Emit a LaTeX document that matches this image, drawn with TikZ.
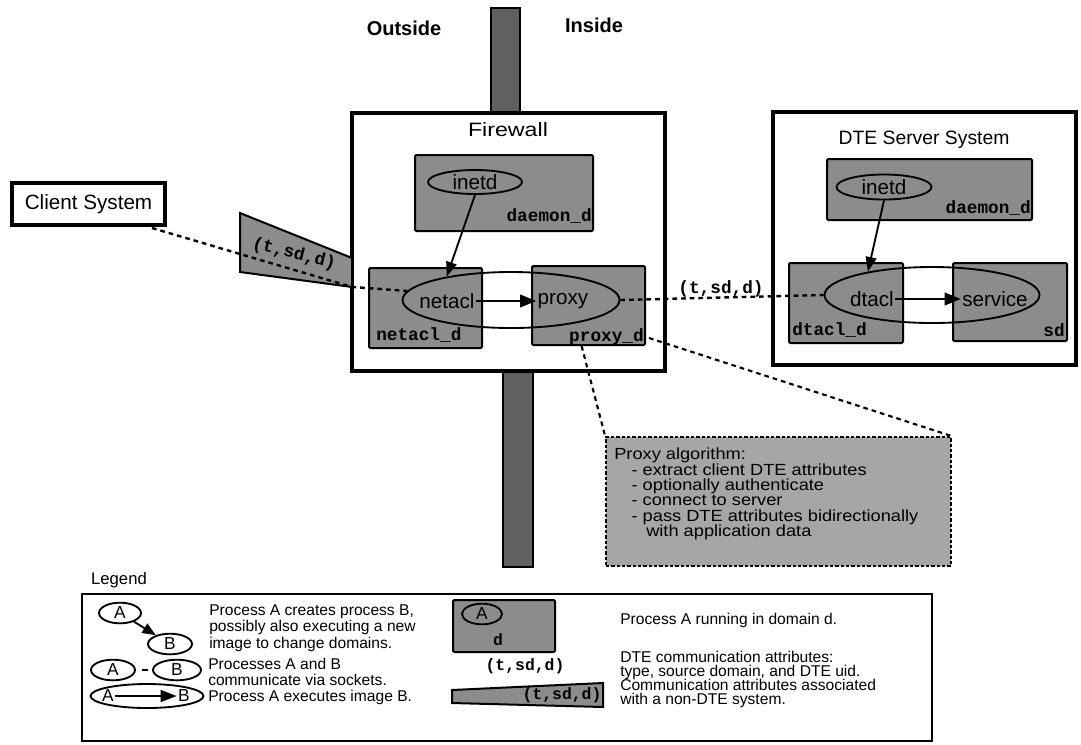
\documentclass[tikz,border=0pt]{standalone}
\usepackage{fontspec}
\setmainfont{Liberation Sans}
\setmonofont{Liberation Mono}
\newfontfamily\widesans[FakeStretch=1.13]{Liberation Sans}
\usetikzlibrary{arrows.meta,calc,shapes.geometric}
\begin{document}
\begin{tikzpicture}[x=0.75pt,y=-0.75pt,
  dom/.style={draw,line width=1.5pt,fill=black!45,rounded corners=1pt,inner sep=0pt},
  proc/.style={draw,ellipse,line width=1.4pt,inner sep=0pt},
  sys/.style={draw,line width=3pt,inner sep=0pt},
  wall/.style={draw,line width=1pt,fill=black!62,inner sep=0pt},
  conn/.style={line width=1.8pt,dash pattern=on 3.5pt off 3pt},
  spawn/.style={line width=1.4pt,-{Triangle[length=11pt,width=8pt]}},
  exec/.style={line width=1.4pt,-{Triangle[length=12pt,width=9.5pt]}},
  mono/.style={font=\fontsize{13.3}{14}\selectfont\ttfamily\bfseries,inner sep=0pt},
  monol/.style={font=\fontsize{12.3}{13}\selectfont\ttfamily\bfseries,inner sep=0pt},
  ptxt/.style={font=\fontsize{15.5}{17}\selectfont,inner sep=1pt},
  ltxt/.style={font=\fontsize{13}{14}\selectfont,inner sep=1pt},
  lg/.style={font=\fontsize{11.7}{12.4}\selectfont,align=left,anchor=west,inner sep=0pt},
  ttl/.style={font=\fontsize{14.5}{16}\selectfont,inner sep=0pt},
  ]
\useasboundingbox (0,0) rectangle (1081,744);

% walls
\node[wall,minimum width=21.75pt,minimum height=78.75pt] (wtop) at (505.5,60.5) {};
\node[wall,minimum width=22.5pt,minimum height=146.25pt] (wbot) at (518,469.5) {};
\node[font=\fontsize{15}{16}\selectfont\bfseries] (outside) at (404,28) {Outside};
\node[font=\fontsize{15}{16}\selectfont\bfseries] (inside) at (594,25) {Inside};

% systems
\node[sys,minimum width=234.75pt,minimum height=193.5pt] (fw) at (508.5,242) {};
\node[sys,minimum width=227.25pt,minimum height=189.75pt] (srv) at (924.5,238.5) {};
\node[sys,minimum width=114.75pt,minimum height=31.5pt,font=\fontsize{15.5}{17}\selectfont] (client) at (88.5,204) {Client System};
\node[ttl] (fwtitle) at (508,130) {\scalebox{1.2}[1]{Firewall}};
\node[ttl] (srvtitle) at (924,140) {DTE Server System};

% firewall domains
\node[dom,minimum width=133.5pt,minimum height=57pt] (fwdaemon) at (504,193) {};
\node[dom,minimum width=84.75pt,minimum height=60pt] (netacld) at (425.5,308) {};
\node[dom,minimum width=84.75pt,minimum height=59.25pt] (proxyd) at (588.5,305.5) {};
\node[mono,anchor=east] (fwdaemonl) at (592,216) {daemon\_d};
\node[mono,anchor=west] (netacldl) at (376,335) {netacl\_d};
\node[mono,anchor=east] (proxydl) at (644,337) {proxy\_d};

% server domains
\node[dom,minimum width=153.75pt,minimum height=45.75pt] (srvdaemon) at (929.5,189.5) {};
\node[dom,minimum width=85.5pt,minimum height=60pt] (dtacld) at (846,303) {};
\node[dom,minimum width=85.5pt,minimum height=58.5pt] (sdd) at (1010,302) {};
\node[mono,anchor=east] (srvdaemonl) at (1031,208) {daemon\_d};
\node[mono,anchor=west] (dtacldl) at (792,330) {dtacl\_d};
\node[mono,anchor=east] (sddl) at (1065,330) {sd};

% processes firewall
\node[proc,minimum width=70.5pt,minimum height=18pt] (fwinetd) at (475,182) {};
\node[ptxt] at (475,182) {inetd};
\node[proc,minimum width=162.75pt,minimum height=42pt] (fwell) at (511,300) {};
\node[ptxt] (netacl) at (447,301) {netacl};
\node[ptxt] (proxy) at (563,301) {proxy};
\draw[spawn] (fwinetd.south) -- (fwell.160);
\draw[exec] (netacl.east) -- (proxy.west);

% processes server
\node[proc,minimum width=71.25pt,minimum height=18.75pt] (srvinetd) at (884,187) {};
\node[ptxt] at (884,187) {inetd};
\node[proc,minimum width=161.25pt,minimum height=42pt] (srvell) at (932,295) {};
\node[ptxt] (dtacl) at (872,299) {dtacl};
\node[ptxt] (service) at (995,299) {service};
\draw[spawn] (srvinetd.south) -- (srvell.160);
\draw[exec] (dtacl.east) -- (service.west);

% client trapezoid
\draw[line width=1.5pt,fill=black!45] (240,213) -- (352,258) -- (352,287) -- (240,272) -- cycle;
\node[mono,rotate=-14] (ctag) at (294,254) {(t,sd,d)};
\coordinate (fwentry) at (352,287);
\draw[conn] ($(client.south east)+(-15,1)$) -- (fwentry) -- (fwell.175);

% proxy to server
\draw[conn] (fwell.east) -- (srvell.west);
\node[mono] (stag) at (721,289) {(t,sd,d)};

% proxy algorithm
\node[draw,line width=1.3pt,dash pattern=on 2.5pt off 1.5pt,fill=black!35,minimum width=258.75pt,minimum height=96.75pt,inner sep=0pt] (alg) at (778.5,501.5) {};
\node[font=\widesans\fontsize{12.1}{11.5}\selectfont,align=left,anchor=north west,inner sep=0pt] (algtxt) at (614,448) {Proxy algorithm:\\\hspace*{13pt}- extract client DTE attributes\\\hspace*{13pt}- optionally authenticate\\\hspace*{13pt}- connect to server\\\hspace*{13pt}- pass DTE attributes bidirectionally\\\hspace*{24pt}with application data};
\draw[conn,line width=1.6pt] ($(proxyd.south west)!0.44!(proxyd.south east)$) -- (alg.north west);
\draw[conn,line width=1.6pt] ($(proxyd.south east)+(3,-8)$) -- (alg.north east);

% legend
\node[font=\fontsize{12.5}{14}\selectfont] (legt) at (119,580) {Legend};
\node[draw,line width=1.3pt,minimum width=637.5pt,minimum height=110.25pt,inner sep=0pt] (leg) at (507,667.5) {};
% item 1
\node[proc,ltxt,minimum width=31.5pt,minimum height=15pt] (lA1) at (120,613) {A};
\node[proc,ltxt,minimum width=33pt,minimum height=14.25pt] (lB1) at (170,644) {B};
\draw[line width=1.4pt,-{Triangle[length=10pt,width=8pt]}] (lA1) -- (lB1);
\node[lg] (l1) at (209,628) {Process A creates process B,\\possibly also executing a new\\image to change domains.};
% item 2
\node[proc,ltxt,minimum width=33pt,minimum height=12.75pt] (lA2) at (113,670) {A};
\node[proc,ltxt,minimum width=36pt,minimum height=12.75pt] (lB2) at (177,670) {B};
\draw[line width=1.4pt,dash pattern=on 0pt off 4.5pt on 4.5pt off 20pt] (lA2.east) -- (lB2.west);
\node[lg,font=\fontsize{11.7}{11.8}\selectfont] (l2) at (208,672) {Processes A and B\\communicate via sockets.};
% item 3
\node[proc,minimum width=84.75pt,minimum height=18pt] (lE) at (147,696) {};
\node[ltxt] (lA3) at (108,696) {A};
\node[ltxt] (lB3) at (184,696) {B};
\draw[line width=1.4pt,-{Triangle[length=12pt,width=9pt]}] (lA3.east) -- (lB3.west);
\node[lg] (l3) at (208,697) {Process A executes image B.};
% item 4
\node[dom,minimum width=76.5pt,minimum height=39pt] (lD) at (504,626) {};
\node[proc,ltxt,minimum width=30pt,minimum height=13.5pt] (lA4) at (482,614) {A};
\node[monol] (ld) at (498,640) {d};
\node[lg] (l4) at (620,620) {Process A running in domain d.};
% item 5
\node[monol] (ltag) at (525,666) {(t,sd,d)};
\node[lg,font=\fontsize{11.7}{10.5}\selectfont] (l5) at (620,665) {DTE communication attributes:\\type, source domain, and DTE uid.};
% item 6
\draw[line width=1.5pt,fill=black!45] (452,690) -- (603,683) -- (603,707) -- (452,703) -- cycle;
\node[monol] (ltag2) at (562,695) {(t,sd,d)};
\node[lg,font=\fontsize{11.7}{10.5}\selectfont] (l6) at (620,693) {Communication attributes associated\\with a non-DTE system.};
\end{tikzpicture}
\end{document}
